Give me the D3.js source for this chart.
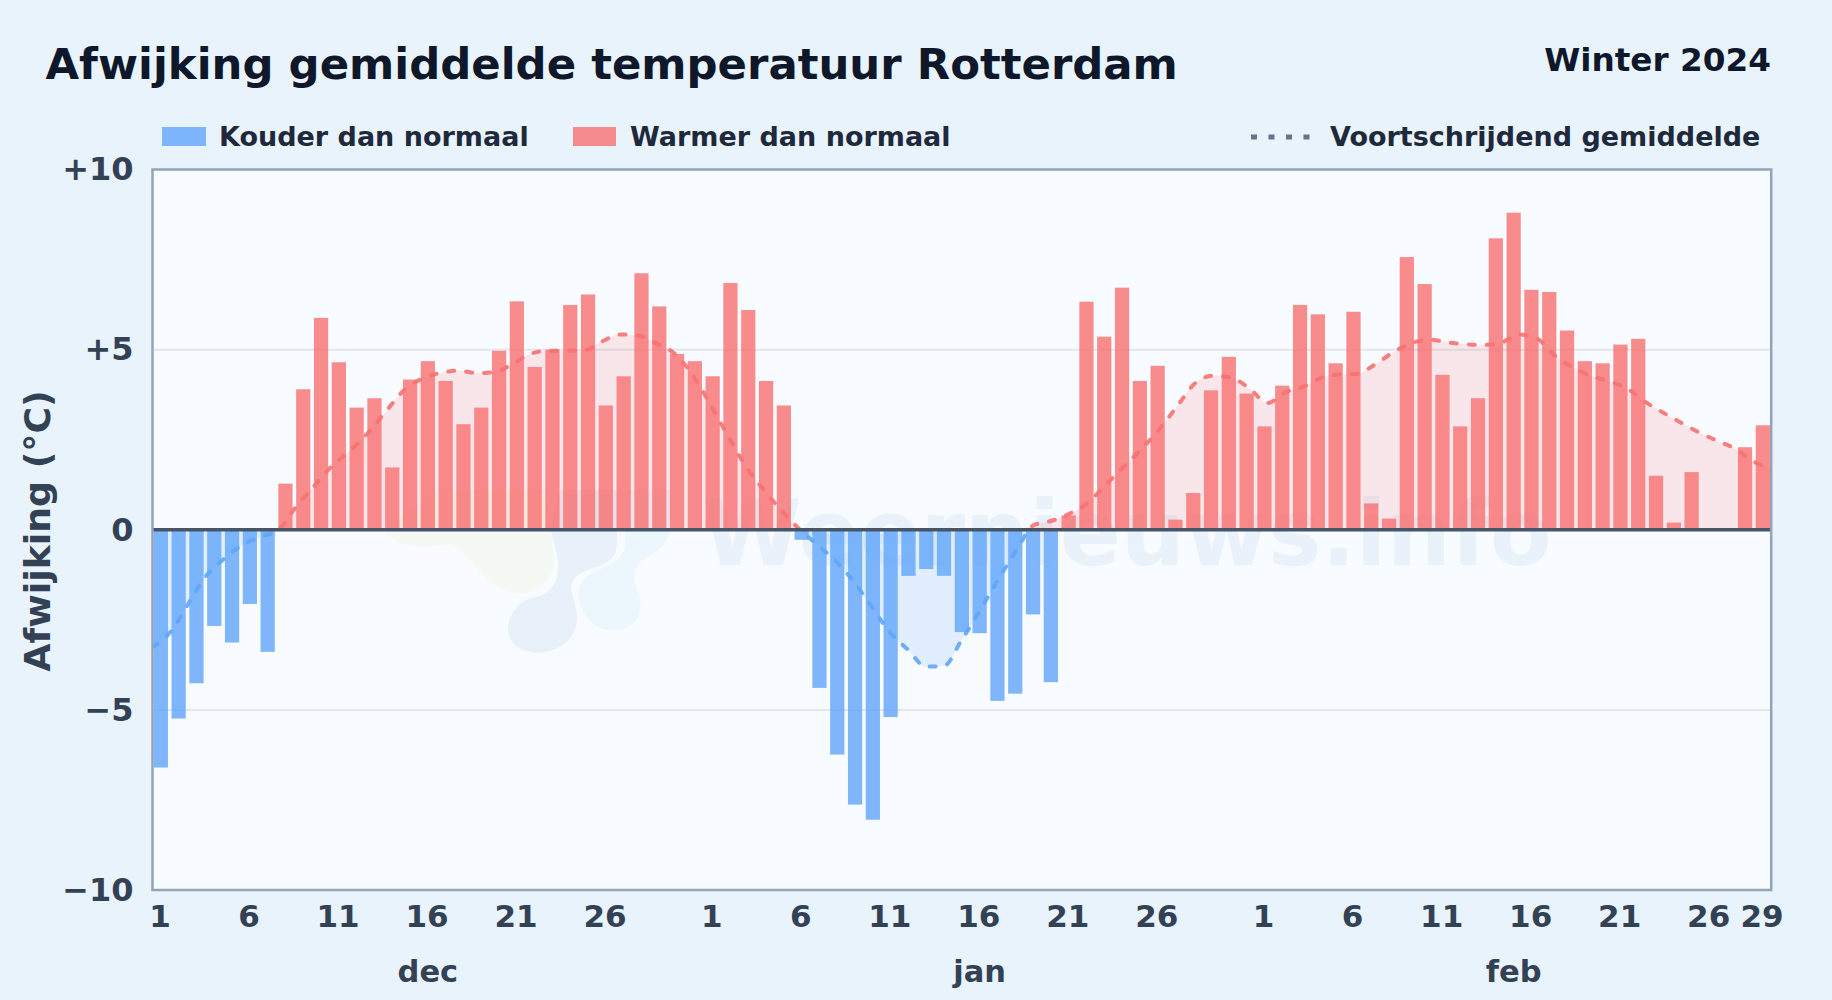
<!DOCTYPE html>
<html lang="nl">

<head>
    <meta charset="utf-8">
    <title>Afwijking gemiddelde temperatuur Rotterdam</title>
    <script src="https://cdn.jsdelivr.net/npm/d3@7"></script>
</head>
<style>
    body { margin: 0; background: #e9f3fc; }
    svg { display: block; font-family: "DejaVu Sans", sans-serif; font-weight: bold; }
</style>

<body>
    <script>

     // daily deviation from normal (degrees C)
     var decDev = [-6.6, -5.24, -4.26, -2.67, -3.13, -2.06, -3.39, 1.28, 3.9, 5.88, 4.65, 3.39, 3.65, 1.73, 4.17, 4.68,
                   4.13, 2.93, 3.39, 4.97, 6.34, 4.52, 5.0, 6.24, 6.53, 3.45, 4.26, 7.12, 6.2, 4.88, 4.68];
     var janDev = [4.26, 6.85, 6.1, 4.13, 3.45, -0.28, -4.39, -6.24, -7.63, -8.05, -5.2, -1.28, -1.09, -1.28, -2.84, -2.87,
                   -4.75, -4.55, -2.35, -4.23, 0.4, 6.33, 5.36, 6.72, 4.13, 4.55, 0.28, 1.02, 3.87, 4.8, 3.78];
     var febDev = [2.87, 4.0, 6.24, 5.98, 4.62, 6.05, 0.73, 0.31, 7.57, 6.82, 4.3, 2.87, 3.65, 8.09, 8.8, 6.66,
                   6.6, 5.53, 4.68, 4.62, 5.14, 5.3, 1.5, 0.2, 1.6, 0, 0, 2.29, 2.9];

     // moving average
     var decAvg = [-3.25, -2.84, -2.05, -1.27, -0.8, -0.42, -0.2, 0.0, 0.65, 1.22, 1.78, 2.2, 2.7, 3.3, 3.88, 4.2,
                   4.35, 4.42, 4.35, 4.37, 4.6, 4.88, 4.97, 4.97, 4.98, 5.23, 5.42, 5.39, 5.18, 4.9, 4.32];
     var janAvg = [3.5, 2.6, 1.75, 1.1, 0.52, 0.0, -0.43, -0.88, -1.45, -2.15, -2.85, -3.33, -3.8, -3.78, -3.05, -2.25,
                   -1.4, -0.6, 0.13, 0.25, 0.45, 0.75, 1.25, 1.75, 2.25, 2.8, 3.45, 4.08, 4.28, 4.22, 3.92];
     var febAvg = [3.52, 3.82, 3.97, 4.22, 4.31, 4.33, 4.6, 4.93, 5.18, 5.28, 5.2, 5.15, 5.13, 5.2, 5.42, 5.3,
                   4.82, 4.5, 4.27, 4.12, 3.92, 3.55, 3.25, 2.97, 2.7, 2.47, 2.25, 1.9, 1.7];

     var months = ["dec", "jan", "feb"];
     var monthLengths = [31, 31, 29];
     var dayTicks = [1, 6, 11, 16, 21, 26];
     var yTicks = [10, 5, 0, -5, -10];

     var deviations = decDev.concat(janDev, febDev);
     var rolling = decAvg.concat(janAvg, febAvg);

     var width = 1832, height = 1000;
     var margin = {top: 169.5, right: 60.8, bottom: 110, left: 152.5};
     var innerW = width - margin.left - margin.right;
     var innerH = height - margin.top - margin.bottom;

     var svg = d3.select("body").append("svg")
                 .attr("width", width)
                 .attr("height", height);

     var defs = svg.append("defs");

     var x = d3.scaleBand()
               .domain(d3.range(deviations.length))
               .range([0, innerW])
               .paddingInner(0.2)
               .paddingOuter(0.07);

     // the average runs edge to edge, the bars sit in bands
     var xLine = d3.scalePoint()
                   .domain(d3.range(rolling.length))
                   .range([0, innerW]);

     var y = d3.scaleLinear().domain([-10, 10]).range([innerH, 0]);

     // header
     svg.append("text").attr("x", 45.5).attr("y", 79)
        .attr("font-size", 43.4).attr("fill", "#0f172a")
        .text("Afwijking gemiddelde temperatuur Rotterdam");
     svg.append("text").attr("x", 1771).attr("y", 71)
        .attr("text-anchor", "end")
        .attr("font-size", 32.7).attr("fill", "#0f172a")
        .text("Winter 2024");

     // legend
     var legend = svg.append("g").attr("font-size", 27).attr("fill", "#1e293b");
     legend.append("rect").attr("x", 162).attr("y", 127).attr("width", 44).attr("height", 19).attr("fill", "#60a5fa").attr("opacity", 0.8);
     legend.append("text").attr("x", 219).attr("y", 146).text("Kouder dan normaal");
     legend.append("rect").attr("x", 573).attr("y", 127).attr("width", 43).attr("height", 19).attr("fill", "#f87171").attr("opacity", 0.8);
     legend.append("text").attr("x", 630).attr("y", 146).text("Warmer dan normaal");
     legend.append("line").attr("x1", 1251).attr("x2", 1310).attr("y1", 137).attr("y2", 137)
           .attr("stroke", "#64748b").attr("stroke-width", 5).attr("stroke-dasharray", "6,11.5");
     legend.append("text").attr("x", 1330).attr("y", 146).text("Voortschrijdend gemiddelde");

     // y axis title
     svg.append("text")
        .attr("transform", "translate(50,531) rotate(-90)")
        .attr("text-anchor", "middle")
        .attr("font-size", 36.3).attr("fill", "#334155")
        .text("Afwijking (°C)");

     var plot = svg.append("g").attr("transform", "translate(" + margin.left + "," + margin.top + ")");

     plot.append("rect").attr("width", innerW).attr("height", innerH).attr("fill", "#f8fbff");

     // watermark behind the bars, page coordinates
     var mark = plot.append("g").attr("transform", "translate(" + (-margin.left) + "," + (-margin.top) + ")");
     mark.append("path").attr("fill", "#f4f9f3")
         .attr("d", "M383,529 C395,548 420,548 445,545 C470,543 480,590 515,593 C540,595 560,575 553,550 L545,490 L440,490 Z");
     mark.append("path").attr("fill", "#e8f0f9")
         .attr("d", "M560,490 L550,529 C560,560 565,585 540,596 C510,600 500,630 515,645 C535,662 575,650 577,620 C578,600 565,590 575,578 C585,565 615,570 617,545 L617,490 Z");
     mark.append("path").attr("fill", "#ecf6fd")
         .attr("d", "M627,490 L625,545 C622,570 590,565 580,585 C573,605 590,632 615,630 C640,630 645,605 637,590 C628,570 640,560 655,552 C668,545 672,535 672,490 Z");
     mark.append("text").attr("x", 1127).attr("y", 565)
         .attr("text-anchor", "middle")
         .attr("font-size", 90).attr("fill", "#e9f2fa")
         .text("Weernieuws.info");

     // gridlines
     plot.append("g").selectAll("line").data(yTicks.filter(function(d) { return Math.abs(d) === 5; }))
         .enter().append("line")
         .attr("x1", 0).attr("x2", innerW)
         .attr("y1", function(d) { return y(d); }).attr("y2", function(d) { return y(d); })
         .attr("stroke", "#e1e7ec").attr("stroke-width", 2);

     defs.append("clipPath").attr("id", "above").append("rect")
         .attr("width", innerW).attr("height", y(0));
     defs.append("clipPath").attr("id", "below").append("rect")
         .attr("y", y(0)).attr("width", innerW).attr("height", innerH - y(0));

     var areaFn = d3.area()
                    .x(function(d, i) { return xLine(i); })
                    .y0(y(0))
                    .y1(function(d) { return y(d); })
                    .curve(d3.curveMonotoneX);
     var lineFn = d3.line()
                    .x(function(d, i) { return xLine(i); })
                    .y(function(d) { return y(d); })
                    .curve(d3.curveMonotoneX);

     var sides = [{clip: "above", color: "#f87171", fill: 0.15}, {clip: "below", color: "#60a5fa", fill: 0.15}];

     sides.forEach(function(s) {
         plot.append("path").attr("clip-path", "url(#" + s.clip + ")")
             .attr("d", areaFn(rolling))
             .attr("fill", s.color).attr("fill-opacity", s.fill);
     });

     // bars
     plot.append("g").selectAll("rect").data(deviations)
         .enter().append("rect")
         .attr("x", function(d, i) { return x(i); })
         .attr("width", x.bandwidth())
         .attr("y", function(d) { return y(Math.max(d, 0)); })
         .attr("height", function(d) { return Math.abs(y(d) - y(0)); })
         .attr("fill", function(d) { return d < 0 ? "#60a5fa" : "#f87171"; })
         .attr("opacity", 0.8);

     sides.forEach(function(s) {
         plot.append("path").attr("clip-path", "url(#" + s.clip + ")")
             .attr("d", lineFn(rolling))
             .attr("fill", "none")
             .attr("stroke", s.color)
             .attr("stroke-width", 4)
             .attr("stroke-linecap", "round")
             .attr("stroke-dasharray", "6,12")
             .attr("opacity", 0.9);
     });

     // zero line and frame
     plot.append("line").attr("x1", 0).attr("x2", innerW).attr("y1", y(0)).attr("y2", y(0))
         .attr("stroke", "#475569").attr("stroke-width", 3.5);
     plot.append("rect").attr("width", innerW).attr("height", innerH)
         .attr("fill", "none").attr("stroke", "#94a3b8").attr("stroke-width", 2.5);

     // axes
     var yAxis = d3.axisLeft(y)
                   .tickValues(yTicks)
                   .tickSize(0)
                   .tickPadding(19)
                   .tickFormat(function(d) { return d > 0 ? "+" + d : d < 0 ? "\u2212" + Math.abs(d) : "0"; });
     var gy = plot.append("g").call(yAxis);
     gy.select(".domain").remove();
     gy.selectAll("text").attr("font-size", 32).attr("font-family", "DejaVu Sans").attr("font-weight", "bold").attr("fill", "#334155");

     // day ticks per month, plus the last day of february
     var xTickIdx = [], xTickLabel = {};
     var offset = 0;
     monthLengths.forEach(function(len) {
         dayTicks.forEach(function(day) {
             if (day <= len) { xTickIdx.push(offset + day - 1); xTickLabel[offset + day - 1] = day; }
         });
         offset += len;
     });
     xTickIdx.push(offset - 1);
     xTickLabel[offset - 1] = monthLengths[2];

     var xAxis = d3.axisBottom(x)
                   .tickValues(xTickIdx)
                   .tickSize(0)
                   .tickPadding(15)
                   .tickFormat(function(d) { return xTickLabel[d]; });
     var gx = plot.append("g").attr("transform", "translate(-0.8,0)").append("g").attr("transform", "translate(0," + innerH + ")").call(xAxis);
     gx.select(".domain").remove();
     gx.selectAll("text").attr("font-size", 31).attr("font-family", "DejaVu Sans").attr("font-weight", "bold").attr("fill", "#334155");

     // month labels in the middle of each month
     var monthStart = 0;
     months.forEach(function(m, i) {
         plot.append("text")
             .attr("x", x(monthStart + Math.floor(monthLengths[i] / 2)) + x.bandwidth() / 2)
             .attr("y", innerH + 92)
             .attr("text-anchor", "middle")
             .attr("font-size", 30.5).attr("fill", "#334155")
             .text(m);
         monthStart += monthLengths[i];
     });

    </script>
</body>

</html>
